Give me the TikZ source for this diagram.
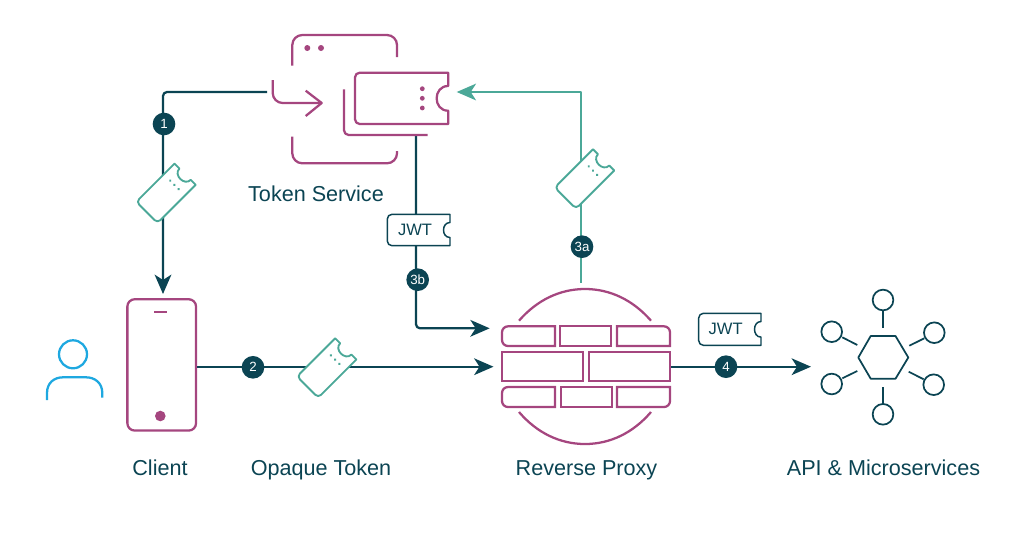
\documentclass[tikz,border=0pt]{standalone}
\usepackage{fontspec}
\setmainfont{Liberation Sans}
\usetikzlibrary{arrows.meta,shapes.geometric,calc}
\definecolor{navy}{HTML}{0B4453}
\definecolor{plum}{HTML}{A5467F}
\definecolor{sea}{HTML}{4BA898}
\definecolor{sky}{HTML}{1EA8E0}
% axis-aligned ticket: left, top, right, bottom, notch half-height, notch depth, style
\newcommand{\tickbox}[7]{%
  \pgfmathsetmacro{\tcy}{(#2+#4)/2}%
  \pgfmathsetmacro{\tna}{\tcy-#5}%
  \pgfmathsetmacro{\tnb}{\tcy+#5}%
  \pgfmathsetmacro{\tnc}{#3-1.33*#6}%
  \draw[#7,rounded corners=3.5pt] (#3,#2) -- (#1,#2) -- (#1,#4) [sharp corners] -- (#3,#4) -- (#3,\tnb)
    .. controls (\tnc,\tnb) and (\tnc,\tna) .. (#3,\tna) -- cycle;}
\tikzset{
  x=0.75pt,y=-0.75pt,
  navyline/.style={draw=navy,line width=1.7pt,line join=round},
  plumline/.style={draw=plum,line width=1.7pt,line join=round},
  bluestroke/.style={draw=sky,line width=1.7pt},
  tealline/.style={draw=sea,line width=1.5pt,line join=round},
  tealticket/.style={draw=sea,fill=white,line width=1.4pt,line join=round},
  navyticket/.style={draw=navy,fill=white,line width=1.1pt,line join=round},
  brick/.style={draw=plum,line width=1.7pt,line join=miter},
  hubline/.style={draw=navy,line width=1.3pt},
  satellite/.style={circle,draw=navy,line width=1.3pt,minimum size=15.5pt,inner sep=0pt},
  badge/.style={circle,fill=navy,text=white,minimum size=17pt,inner sep=0pt,font=\fontsize{10}{10}\selectfont},
  caption/.style={text=navy,inner sep=0pt,anchor=base,font=\fontsize{16.2}{18}\selectfont},
  jwt/.style={text=navy,inner sep=0pt,anchor=base,font=\fontsize{12.4}{13}\selectfont},
  tip/.style={-{Stealth[length=14.5pt,width=12.5pt,inset=4pt]}},
  teal ticket pic/.pic={
    \draw[tealticket,rounded corners=3pt] (27,-15) -- (-27,-15) -- (-27,15) [sharp corners] -- (27,15) -- (27,8)
      .. controls (18,8) and (18,-8) .. (27,-8) -- cycle;
    \foreach \d in {-6,0,6}{\fill[sea] (12,\d) circle[radius=1.4];}
  },
}
\begin{document}
\begin{tikzpicture}
\useasboundingbox (0,0) rectangle (1024,544);
% named anchors
\coordinate (tsIn) at (267,92);
\coordinate (cornerA) at (163,92);
\coordinate (clientTop) at (163,294);
\coordinate (tsOut) at (416,135);
\coordinate (cornerB) at (416,328.3);
\coordinate (proxyNW) at (489.7,328.3);
\coordinate (proxyW) at (493.5,366.7);
\coordinate (proxyN) at (581,282.7);
\coordinate (cornerC) at (581,92);
\coordinate (tsE) at (456.7,92);
\coordinate (proxyE) at (670,366.7);
\coordinate (hubW) at (811,366.7);

% phone
\node[draw=plum,line width=1.7pt,rounded corners=5.5pt,minimum width=51.5pt,minimum height=98.5pt,inner sep=0pt] (client) at (161.7,364.9) {};
\draw[plumline] (154,311.7) -- (166.7,311.7);
\fill[plum] (160.3,416) circle[radius=5.3];

% person
\draw[bluestroke] (73,354.3) circle[radius=14];
\draw[bluestroke] (47,400) -- (47,393) .. controls (47,383) and (54,377.3) .. (63,377.3) -- (86,377.3) .. controls (95,377.3) and (102.3,383) .. (102.3,393) -- (102.3,397.7);

% connectors
\draw[navyline,tip,rounded corners=3pt] (tsIn) -- (cornerA) -- (clientTop);
\draw[navyline,tip,rounded corners=3pt] (tsOut) -- (cornerB) -- (proxyNW);
\draw[navyline,tip] (client.east |- proxyW) -- (proxyW);
\draw[navyline,tip] (proxyE) -- (hubW);
\draw[tealline,-{Stealth[length=14.5pt,width=12.5pt,inset=4pt]}] (proxyN) -- (cornerC) -- (tsE);

% token service
\draw[plumline,rounded corners=7.5pt] (292.3,65.7) -- (292.3,35) -- (397,35) -- (397,57);
\draw[plumline,rounded corners=7.5pt] (292.3,136.7) -- (292.3,163.3) -- (397,163.3) -- (397,151);
\fill[plum] (307.3,48) circle[radius=3] (321,48) circle[radius=3];
\draw[plumline,rounded corners=7.5pt] (272.7,80) -- (272.7,103) -- (321.7,103);
\draw[plumline] (305.7,90.7) -- (321.7,103) -- (305.7,116);
\tickbox{355}{72.7}{448.3}{124}{12.4}{11.7}{plumline}
\foreach \d in {88.7,98.3,108}{\fill[plum] (422.3,\d) circle[radius=2.4];}
\draw[plumline,rounded corners=3.5pt] (344,89.3) -- (344,135) -- (427.7,135);

% tickets on lines
\pic[rotate=45] at (166,193.3) {teal ticket pic};
\pic[rotate=45] at (326.7,368) {teal ticket pic};
\pic[rotate=45] at (584.5,179) {teal ticket pic};

\tickbox{387.3}{214.3}{450}{245.7}{7.5}{6.5}{navyticket}
\node[jwt] (jwtA) at (415,235) {JWT};
\tickbox{698.7}{313.3}{761}{345.3}{7.8}{6.5}{navyticket}
\node[jwt] (jwtB) at (725.7,334.3) {JWT};

% badges
\node[badge] (b1) at (164,124) {1};
\node[badge] (b2) at (253,367.3) {2};
\node[badge] (b3a) at (582,246.7) {3a};
\node[badge] (b3b) at (417.7,279.7) {3b};
\node[badge] (b4) at (726,366.7) {4};

% reverse proxy
\draw[plumline] (519,320.7) .. controls (537,300) and (560,289) .. (585,289) .. controls (610,289) and (633,300) .. (651,320.7);
\draw[plumline] (519,412) .. controls (537,433) and (560,444) .. (585,444) .. controls (610,444) and (633,433) .. (651,412);
\draw[brick,rounded corners=4.5pt] (555,326.3) -- (502,326.3) -- (502,346) [sharp corners] -- (555,346) -- cycle;
\draw[brick] (560.3,326.3) rectangle (611,346);
\draw[brick,rounded corners=4.5pt] (617,326.3) -- (670,326.3) [sharp corners] -- (670,346) -- (617,346) -- cycle;
\draw[brick] (502,352) rectangle (582.7,381.3);
\draw[brick] (589.3,352) rectangle (670,381.3);
\draw[brick,rounded corners=4.5pt] (555,407) -- (502,407) -- (502,387) [sharp corners] -- (555,387) -- cycle;
\draw[brick] (560.7,387) rectangle (611.7,407);
\draw[brick,rounded corners=4.5pt] (617,407) -- (670,407) [sharp corners] -- (670,387) -- (617,387) -- cycle;

% microservices hub
\draw[hubline,line join=round] (858.3,357.5) -- (870.7,336) -- (895.5,336) -- (908.3,357.5) -- (895.5,378.7) -- (870.7,378.7) -- cycle;
\node[satellite] (s1) at (883,300) {};
\node[satellite] (s2) at (831.7,331.7) {};
\node[satellite] (s3) at (934.3,332.7) {};
\node[satellite] (s4) at (831.7,384) {};
\node[satellite] (s5) at (933.7,384.7) {};
\node[satellite] (s6) at (883,414.3) {};
\draw[hubline] (883,310) -- (883,328.3);
\draw[hubline] (842.3,337.3) -- (857.3,345);
\draw[hubline] (924.3,338.3) -- (909.3,345.7);
\draw[hubline] (842.3,378.3) -- (857.3,371);
\draw[hubline] (923.7,379.3) -- (908.7,371.7);
\draw[hubline] (883,404) -- (883,386.7);

% captions
\node[caption] (capA) at (316,201) {Token Service};
\node[caption] (capB) at (160,475.3) {Client};
\node[caption] (capC) at (321,475.3) {Opaque Token};
\node[caption] (capD) at (586.5,475.3) {Reverse Proxy};
\node[caption] (capE) at (883.5,475.3) {API \& Microservices};
\end{tikzpicture}
\end{document}
